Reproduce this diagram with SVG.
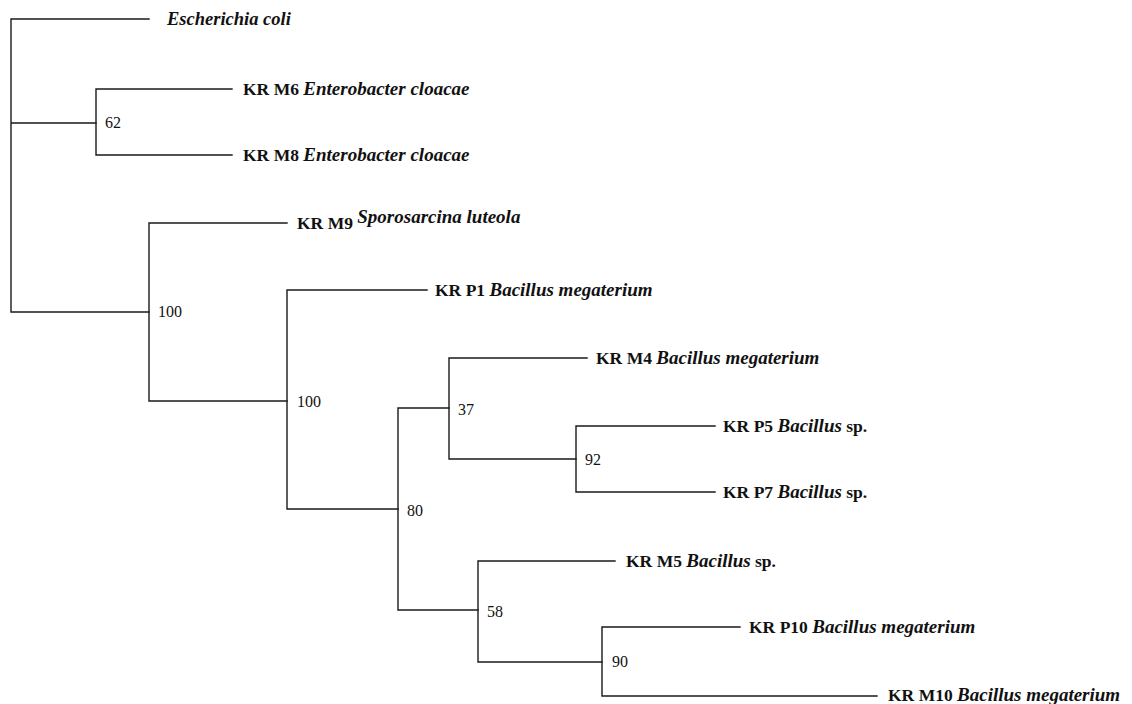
<svg xmlns="http://www.w3.org/2000/svg" width="1132" height="704" viewBox="0 0 1132 704">
<style>
.br{fill:none;stroke:#1a1a1a;stroke-width:1.4;stroke-linecap:square}
.lb{font-family:"Liberation Serif","Times New Roman",serif;font-size:17.5px;font-weight:bold;fill:#111}
.it{font-style:italic;font-size:19px}
.bs{font-family:"Liberation Serif","Times New Roman",serif;font-size:16px;fill:#111}
</style>
<rect width="1132" height="704" fill="#fff"/>
<g id="connectors">
<path class="br" d="M11,19 V312 M11,19 H149 M11,123 H96 M11,312 H149"/>
<path class="br" d="M96,89 V155 M96,89 H232 M96,155 H232"/>
<path class="br" d="M149,223 V401 M149,223 H287 M149,401 H287"/>
<path class="br" d="M287,290 V509 M287,290 H427 M287,509 H398"/>
<path class="br" d="M398,408 V610 M398,408 H449 M398,610 H478"/>
<path class="br" d="M449,358 V459 M449,358 H587 M449,459 H576"/>
<path class="br" d="M576,426 V492 M576,426 H715 M576,492 H715"/>
<path class="br" d="M478,561 V662 M478,561 H615 M478,662 H602"/>
<path class="br" d="M602,627 V696 M602,627 H740 M602,696 H877"/>
</g>
<g id="leaf-ecoli"><text class="lb it" x="167" y="25" style="font-size:18.5px">Escherichia coli</text></g>
<g id="leaf-m6"><text class="lb" x="243" y="95">KR M6 <tspan class="it">Enterobacter cloacae</tspan></text></g>
<g id="leaf-m8"><text class="lb" x="243" y="161">KR M8 <tspan class="it">Enterobacter cloacae</tspan></text></g>
<g id="leaf-m9"><text class="lb" x="297" y="229">KR M9 <tspan class="it" dy="-6">Sporosarcina luteola</tspan></text></g>
<g id="leaf-p1"><text class="lb" x="435" y="296">KR P1 <tspan class="it">Bacillus megaterium</tspan></text></g>
<g id="leaf-m4"><text class="lb" x="596" y="364">KR M4 <tspan class="it">Bacillus megaterium</tspan></text></g>
<g id="leaf-p5"><text class="lb" x="723" y="432">KR P5 <tspan class="it">Bacillus</tspan> sp.</text></g>
<g id="leaf-p7"><text class="lb" x="723" y="498">KR P7 <tspan class="it">Bacillus</tspan> sp.</text></g>
<g id="leaf-m5"><text class="lb" x="626" y="567">KR M5 <tspan class="it">Bacillus</tspan> sp.</text></g>
<g id="leaf-p10"><text class="lb" x="749" y="633">KR P10 <tspan class="it">Bacillus megaterium</tspan></text></g>
<g id="leaf-m10"><text class="lb" x="888" y="701">KR M10 <tspan class="it">Bacillus megaterium</tspan></text></g>
<g id="node-62"><text class="bs" x="105" y="128">62</text></g>
<g id="node-100a"><text class="bs" x="158" y="317">100</text></g>
<g id="node-100b"><text class="bs" x="297" y="407">100</text></g>
<g id="node-37"><text class="bs" x="458" y="415">37</text></g>
<g id="node-92"><text class="bs" x="585" y="465">92</text></g>
<g id="node-80"><text class="bs" x="407" y="516">80</text></g>
<g id="node-58"><text class="bs" x="487" y="617">58</text></g>
<g id="node-90"><text class="bs" x="612" y="667">90</text></g>
</svg>
